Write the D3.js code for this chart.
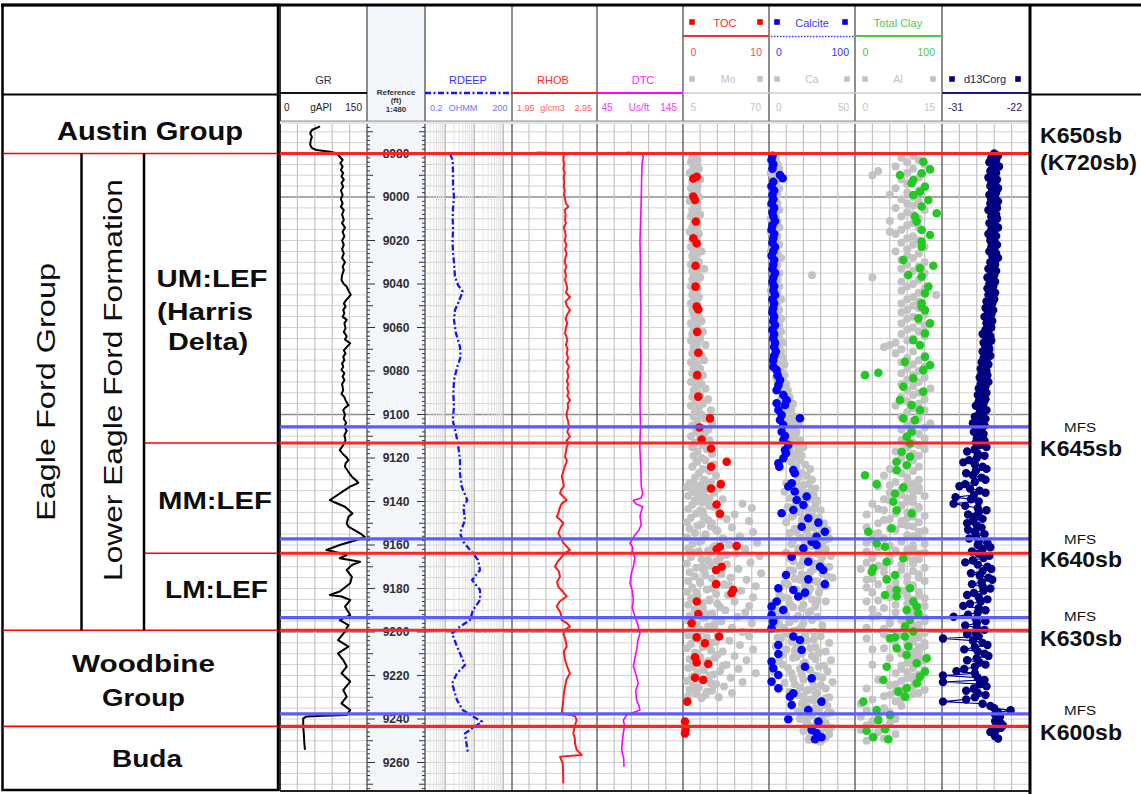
<!DOCTYPE html>
<html><head><meta charset="utf-8">
<script src="https://cdn.jsdelivr.net/npm/d3@7"></script>
<style>body{margin:0;background:#fff}svg{display:block;font-family:"Liberation Sans",Arial,sans-serif}</style>
</head><body><svg id="c" width="1141" height="794"></svg>
<script>
// ---------------- DATA ----------------
const depthLabels = [8980,9000,9020,9040,9060,9080,9100,9120,9140,9160,9180,9200,9220,9240,9260];
const sbNames = ["K650sb","K645sb","K640sb","K630sb","K600sb"];
const sbDepths = [8980, 9113.1, 9163.8, 9199.2, 9243.4];
const mfsDepths = [9105.7, 9157.2, 9193.4, 9237.6];

const grData = [[8967.5,69],[8969.2,55],[8970.7,52],[8972.5,55],[8973.8,53],[8976,52],[8977.5,55],[8978.4,63],[8979.2,86],[8979.9,98],[8981.5,103],[8983,108],[8984.5,104],[8986,108],[8987.6,105],[8989,109],[8990.5,106],[8992,110],[8993.5,106],[8995.3,109],[8997,105],[8999,108],[9001,105],[9002.9,108],[9004.5,105],[9006,110],[9008,107],[9010.6,110],[9012,107],[9014,112],[9016,108],[9018.2,111],[9020,107],[9022,110],[9024,107],[9025.9,110],[9028,107],[9030,112],[9032,108],[9033.6,110],[9036,107],[9038.2,106],[9040,110],[9041.2,115],[9043,118],[9045,122],[9046.5,117],[9047.4,114],[9049,110],[9050.4,113],[9052,109],[9053.5,111],[9055,108],[9056.5,115],[9058,111],[9060.4,113],[9062,110],[9064,115],[9065.5,112],[9067.3,121],[9069,115],[9070.5,110],[9071.9,113],[9073.5,109],[9075,111],[9076.5,107],[9078,109],[9079.5,106],[9081,111],[9082.5,108],[9084.2,111],[9086,107],[9088.8,109],[9090.5,106],[9092,111],[9093.4,113],[9095.7,118],[9097,112],[9098,109],[9100,112],[9102,110],[9103.8,114],[9105.6,111],[9107.5,115],[9109.5,111],[9111.8,113],[9114,109],[9116.4,103],[9118,108],[9119.5,114],[9121,118],[9122.5,113],[9124,112],[9126,117],[9128.6,124],[9130,130],[9131.4,135],[9133.2,121],[9136.3,103],[9139.4,86],[9140.1,92],[9142.4,112],[9145.5,125],[9147,118],[9150,115],[9151.6,118],[9154.6,138],[9156.2,146],[9157.7,132],[9160,103],[9162.3,80],[9163,92],[9164.6,115],[9166.1,103],[9167.7,138],[9169.2,124],[9171.5,115],[9174.6,124],[9177.6,121],[9181.4,103],[9183,86],[9183.7,106],[9185.3,121],[9188.3,112],[9192.2,121],[9194.5,103],[9196.8,118],[9199.8,112],[9203.7,100],[9206.7,118],[9209.8,100],[9212.9,109],[9215.9,115],[9219,106],[9222.8,121],[9226.7,109],[9229.7,115],[9232.8,106],[9235.9,121],[9238.2,115],[9238.5,74],[9238.8,46],[9239.7,40],[9243.5,40],[9246.6,41],[9251.2,42],[9254.2,43]];

const rdeepData = [[8980.3,1.46],[8983,1.80],[8990,1.85],[8995,1.85],[9000,2.0],[9005,1.85],[9010,1.80],[9015,1.85],[9020,1.78],[9026,1.85],[9030,2.0],[9036.6,2.16],[9040.5,2.75],[9043.5,3.99],[9046.6,3.22],[9050.4,2.48],[9052,2.16],[9056.6,2.0],[9062.7,2.34],[9068.9,3.22],[9073.5,3.40],[9078,2.60],[9084.2,2.0],[9090.3,1.89],[9096.4,2.0],[9102.6,1.80],[9108.7,2.34],[9114.8,2.81],[9121,3.22],[9127.1,3.22],[9133.2,3.69],[9139.4,5.75],[9142.4,4.19],[9148.5,4.79],[9154.6,3.22],[9158.5,4.2],[9162.3,7.13],[9166.9,13.5],[9171.5,15.8],[9176.1,8.36],[9180.7,15.8],[9185.3,15.8],[9189.9,9.04],[9194.5,7.13],[9197.5,3.22],[9200.6,1.71],[9206.7,2.54],[9212.9,4.08],[9215.2,4.79],[9219,2.54],[9223.6,1.71],[9231.3,2.54],[9235.9,3.99],[9238.9,9.04],[9241.2,18.5],[9245,7.13],[9246.6,4.79],[9250,5.2],[9255.8,6.08]];

const rhobData = [[8979.5,2.24],[8979.9,2.55],[8981.5,2.56],[8983,2.553],[8985,2.565],[8987,2.555],[8989,2.57],[8991,2.558],[8993,2.566],[8995.3,2.56],[8997,2.572],[8999,2.562],[9001,2.575],[9003,2.585],[9004.4,2.613],[9006,2.57],[9008,2.58],[9010.6,2.574],[9012,2.585],[9014,2.56],[9016,2.575],[9018,2.583],[9020,2.57],[9022,2.59],[9024,2.575],[9026,2.593],[9028,2.578],[9030,2.57],[9032,2.588],[9034,2.572],[9036,2.585],[9038.2,2.574],[9040,2.59],[9042,2.6],[9044,2.585],[9046,2.632],[9048,2.58],[9050,2.595],[9052,2.632],[9054,2.6],[9056,2.58],[9058,2.6],[9060,2.585],[9062.7,2.574],[9064,2.59],[9066,2.60],[9068,2.585],[9070,2.605],[9072,2.593],[9074,2.61],[9076,2.59],[9078,2.62],[9080,2.6],[9082.7,2.613],[9084.5,2.595],[9086,2.61],[9088,2.60],[9090,2.615],[9091.5,2.6],[9093.4,2.632],[9095,2.605],[9097,2.61],[9099,2.595],[9101,2.593],[9103,2.61],[9106,2.62],[9108,2.6],[9110.2,2.632],[9112,2.59],[9113,2.62],[9114.8,2.593],[9117,2.585],[9119.4,2.574],[9121,2.595],[9122,2.59],[9124,2.57],[9126,2.555],[9128.6,2.535],[9130.5,2.55],[9133,2.56],[9134.5,2.53],[9136.3,2.515],[9138,2.56],[9139.4,2.593],[9141,2.535],[9143,2.51],[9145.5,2.495],[9147,2.476],[9148.5,2.52],[9150,2.554],[9152,2.52],[9154.6,2.495],[9157,2.53],[9159,2.554],[9160.5,2.59],[9162.3,2.632],[9164,2.56],[9165.4,2.535],[9167.5,2.49],[9169.9,2.456],[9172,2.5],[9174.6,2.515],[9177,2.48],[9179.2,2.495],[9181.5,2.55],[9183.7,2.593],[9186,2.51],[9188.3,2.476],[9191,2.52],[9194.5,2.535],[9196,2.6],[9197.5,2.632],[9199,2.57],[9200.6,2.554],[9203,2.575],[9206.7,2.593],[9209,2.56],[9212.9,2.574],[9216,2.6],[9219,2.632],[9222,2.59],[9225.1,2.574],[9228,2.56],[9231.3,2.554],[9234,2.545],[9237.4,2.535],[9238.6,2.691],[9240.5,2.711],[9243,2.69],[9246.6,2.671],[9249,2.69],[9251.2,2.691],[9254.2,2.711],[9256.5,2.77],[9257.3,2.515],[9260.4,2.546],[9263,2.55],[9269.6,2.554]];

const dtcData = [[8979.5,79.5],[8979.9,97.0],[8981.5,98.9],[8984,97.5],[8990,97.0],[9000,96.5],[9010,95.8],[9020,95.0],[9030,95.5],[9040,95.2],[9050,96.0],[9056.5,95.8],[9065,95.5],[9075,96.0],[9085,95.2],[9095,95.0],[9105,95.5],[9115,94.8],[9125,96.0],[9133,96.5],[9136.3,98.1],[9138.5,96],[9139.4,87.2],[9141,90],[9142.4,98.1],[9145,96],[9147,95.0],[9150.5,96.5],[9153,94],[9156,88],[9159.2,83.4],[9161,86.5],[9163,86],[9166,89],[9170,87.2],[9173,85],[9177.6,83.4],[9181,86],[9185.3,87.2],[9189,86],[9193,89.2],[9196,92],[9200.6,95.0],[9204,92.5],[9208.3,91.1],[9212,89],[9215.9,87.2],[9219,90],[9223.6,93.0],[9227,90],[9231.3,91.1],[9233.5,93.5],[9235.9,95.0],[9238.2,79.5],[9240.5,75.6],[9243,77],[9246.6,75.6],[9250,74.5],[9254.2,73.7],[9258,76],[9262,76.4]];

const tocData = [[8990.7,1.59],[8991.5,1.2],[8999.8,1.2],[9001.4,1.4],[9011.3,1.5],[9019,1.2],[9021.3,1.59],[9031.6,1.45],[9041.2,1.45],[9050.4,1.59],[9051.7,1.78],[9062,1.65],[9071.6,1.78],[9081.9,1.65],[9091.8,1.78],[9101.8,3.14],[9106,1.9],[9111.5,2.17],[9115.6,3.26],[9121.7,5.08],[9124,3.26],[9132,4.4],[9134,3.26],[9141.4,3.9],[9145.6,4.3],[9160.8,4.3],[9162,3.92],[9160.4,6.24],[9170,4.5],[9171.5,3.85],[9178,3.85],[9180.7,5.85],[9182.2,5.65],[9186,1.6],[9191.7,1.78],[9196,1.0],[9202.4,1.6],[9205.2,2.56],[9202.1,4.2],[9211.6,1.4],[9214,1.6],[9214.7,2.94],[9221,1.4],[9222.1,2.36],[9232,0.5],[9241.2,0.23],[9245,0.3],[9246.6,0.23]];

const calciteData = [[8981,4],[8983,3],[8985,5],[8987,4],[8989.9,12.8],[8991.4,15.9],[8993,5],[8995,3],[8997,6],[8999,4],[9001,5],[9003,3],[9005,6],[9007,4],[9009,5],[9011,7],[9013,4],[9015,3],[9017,6],[9019,5],[9021,4],[9023,7],[9025,5],[9027,3],[9029,6],[9031,5],[9033,4],[9035,7],[9037,5],[9039,4],[9041,6],[9043,5],[9045,7],[9047,4],[9049,6],[9051,5],[9053,4],[9055,6],[9057,5],[9059,7],[9061,4],[9063,6],[9065,5],[9067,7],[9069,6],[9071,8],[9073,6],[9075,5],[9078,5],[9079.6,8.9],[9082,10],[9084.2,12.8],[9086.5,11],[9088.8,8.9],[9091,16.7],[9093.4,20.5],[9094.8,8.9],[9095.6,18.6],[9097.9,10.9],[9100.2,14.7],[9101.7,36],[9102.5,12.8],[9104.8,16.7],[9107.9,14.7],[9109.9,18.6],[9111.7,16.7],[9114,22.5],[9116.3,18.6],[9117.8,19.8],[9120.1,16.7],[9122.4,10.9],[9124,12],[9125.5,28.3],[9127,30],[9131.6,26.4],[9133.1,22.5],[9135.4,30],[9137.7,43.8],[9139.3,32.2],[9141.6,40],[9143.9,28.3],[9145.4,14.7],[9147.7,45.7],[9149.7,57.4],[9151.6,38],[9153.9,65],[9156.2,55.4],[9158.5,49.6],[9160,55.4],[9161.5,40],[9165.4,26.4],[9167.7,45.7],[9170,59.3],[9171.5,63],[9173.8,19.8],[9175.8,45.7],[9178,65],[9179.9,10.9],[9180.7,28.3],[9181.9,41.9],[9183.7,34],[9186,9],[9188.3,3],[9189.9,16.6],[9192.2,3],[9195.2,5],[9198.3,3],[9202.1,28.3],[9203.7,36],[9206,10.9],[9208.3,38],[9210.1,10.9],[9213.6,3],[9216,41.9],[9216.7,5],[9219.8,10.9],[9221.3,49.6],[9222.8,3],[9225.9,10.9],[9228.2,28.3],[9229.7,24.4],[9232,61],[9233.6,26.4],[9235.9,45.7],[9240.1,22.5],[9241.2,57.4],[9245,49.6],[9246.6,55.4],[9248.4,61],[9249.3,53.5]];

const clayData = [[8983.8,78.5],[8987.3,86.2],[8989.1,76.6],[8989.9,51.7],[8992.2,67],[8993.7,65.1],[8995.3,80.5],[8997.6,74.7],[8999.1,67],[9001.4,84.3],[9004.4,76.6],[9007.5,93.9],[9009,69],[9011.3,70.9],[9015.2,76.6],[9017.5,86.2],[9020.5,76.6],[9022.8,76.6],[9029,55.5],[9031.6,90],[9032.8,74.7],[9035.9,61.3],[9036.6,76.6],[9041.2,84.3],[9044.3,80.5],[9048.9,76.6],[9050.5,76.6],[9052,80.5],[9055.8,72.8],[9058.1,86.2],[9062.7,80.5],[9065.8,67],[9068.1,74.7],[9073.5,80.5],[9075.8,57.5],[9077.3,86.2],[9079.6,78.5],[9081.9,11.5],[9080.8,26.8],[9083.4,67],[9087.2,55.5],[9089.5,78.5],[9093.4,51.7],[9095.7,65.1],[9098,74.7],[9101.8,55.5],[9102.6,69],[9107.9,65.1],[9110.2,59.4],[9113.3,63.2],[9117.1,53.6],[9119.4,63.2],[9121.7,47.9],[9123.3,59.4],[9125.6,47.9],[9127.9,11.5],[9132,24.9],[9133.5,55.5],[9136.3,46],[9140.1,44],[9144,47.9],[9145.5,65.1],[9152.3,42.1],[9153.9,15.3],[9159.2,24.9],[9160.8,34.5],[9166.1,55.5],[9167.7,36.4],[9170.7,21],[9172.3,19.2],[9173.8,46],[9175.8,36.4],[9179.9,63.2],[9180.7,47.9],[9183,34.5],[9183.7,47.9],[9186,67],[9188.3,70.9],[9189.9,59.4],[9191.4,72.8],[9194.5,63.2],[9197.5,57.5],[9199.8,67],[9202.9,40.2],[9202.4,46],[9202.1,57.5],[9206.7,61.3],[9207.5,47.9],[9210.6,59.4],[9212.1,82.4],[9214.4,70.9],[9216,36.4],[9218.2,80.5],[9220.5,74.7],[9223.6,70.9],[9222.1,32.6],[9225.9,59.4],[9227.4,49.8],[9229.7,57.5],[9232,9.6],[9235.9,24.9],[9238.2,40.2],[9240.5,26.8],[9244.7,34.5],[9245.4,13.4],[9248.4,21],[9249.3,38.3]];

// grey element series, one reading per foot from the start depth
const moStart = 8981;
const moVals = [14,12,16,11,15,13,17,12,10,15, 14,18,12,13,16,11,14,15,12,17, 13,10,15,14,16,12,13,18,11,14, 15,13,16,12,14,10,17,13,15,12, 14,16,11,13,19,15,12,14,13,17, 11,15,21,12,16,13,18,12,14,15, 11,16,13,14,12,17,15,13,11,16, 14,12,15,13,17,14,19,11,16,13, 15,20,12,14,18,11,16,22,13,15, 17,12,19,14,21,11,16,13,18,15, 12,20,14,17,11,19,15,22,13,16, 18,12,24,15,20,11,17,26,14,19, 13,22,16,27,12,19,24,15,21,11, 18,25,14,20,12,23,16,27,13,19, 22,15,28,12,20,25,17,30,14,21, 26,13,24,32,16,28,19,22,35,15, 50,25,57,18,32,44,21,38,55,27, 16,42,30,58,22,48,35,19,61,40, 28,52,17,45,63,33,24,56,38,20, 47,30,64,22,41,53,18,36,60,27, 49,15,39,58,25,44,31,55,20,37, 52,23,46,12,34,57,28,42,18,50, 31,55,14,40,26,48,20,58,35,16, 44,29,53,22,38,12,47,33,60,25, 41,18,50,30,36,15,27,42,22,32];
const moExtraStart = 9131.5;
const moExtra = [10,18,8,22,12,16,9,25,14,20, 12,28,9,20,15,33,11,24,8,19, 26,10,31,14,22,8,36,17,12,29, 9,24,13,38,11,19,30,8,26,15, 21,10,34,14,27,9,18,40,12,23, 8,30,16,11,25,20,9,33,14,19, 27,10,21,8,30,15,24,11,19,13, 9,23,17,30,11,20,8,26,14,31, 18,10,24,13,35,9,21,16,28,12, 20,8,26,13,17,10,23,15,9,19];
const caStart = 8981;
const caVals = [2,4,1,3,5,2,6,3,1,4, 3,5,2,4,1,6,3,2,5,4, 2,3,5,1,4,6,2,3,4,1, 5,3,2,6,4,1,3,5,2,4, 3,6,2,4,1,5,3,7,2,4, 5,2,4,3,6,25,2,5,3,4, 6,3,1,5,4,2,7,3,5,2, 4,6,3,5,2,7,4,3,6,5, 3,7,4,2,6,5,8,3,6,4, 7,5,3,8,4,6,9,5,3,7, 6,9,4,8,5,10,7,6,11,8, 9,12,7,10,14,8,11,13,9,12, 15,10,13,17,11,14,9,16,12,15, 13,18,11,16,20,12,17,14,19,15, 18,13,21,16,24,14,19,22,17,25, 16,23,19,27,14,21,26,18,24,20, 27,15,22,30,18,25,13,28,21,32, 19,26,34,16,29,23,35,14,27,31, 21,33,17,28,36,12,24,30,19,35, 26,14,31,22,37,18,28,11,33,24, 16,29,21,8,25,33,12,27,19,5, 23,10,28,15,4,20,31,9,17,26, 12,30,7,22,35,16,27,10,33,19, 25,14,36,21,8,29,18,34,13,27, 31,20,37,15,26,33,22,28,17,35, 24,30,19,34,27,21,36,25,31,18, 28,33,23,36,26,30,35,24,32,29];
const caExtraStart = 9131.5;
const caExtra = [10,20,14,25,9,18,22,12,28,16, 20,11,26,17,23,14,29,19,10,24, 30,15,22,12,27,18,33,21,13,25, 17,29,10,23,31,20,14,26,18,32, 12,24,19,34,15,27,9,21,30,16, 23,6,18,11,28,3,20,14,9,24, 7,17,3,25,12,6,19,2,14,9, 21,5,26,13,18,4,24,15,29,8, 16,27,6,20,32,11,24,3,19,28, 14,25,9,30,18,23,12,27,20,33, 26,20,32,22,29,17,34,24,21,30, 22,31,27,34,20,28,25,33,23,30];
const alStart = 8981;
const alVals = [10,8,11,9,12,7,10,4,9,3, 11,8,10,9,12,7,11,9,6,10, 8,11,9,10,7,12,9,10,8,11, 6,10,9,11,8,6,7,10,9,11, 8,10,12,9,7,11,9,10,8,12, 9,11,8,10,12,9,3,11,8,10, 9,12,8,11,14,10,9,11,8,10, 11,9,8,12,10,9,11,8,12,10, 9,11,8,12,10,9,7,6,5,8, 10,7,12,9,11,8,10,12,9,11, 8,10,12,9,11,8,10,13,9,11, 10,8,12,9,11,7,10,12,9,11, 8,11,10,13,9,12,8,10,11,9, 12,8,10,11,9,12,7,10,11,8, 10,7,9,11,6,10,8,5,9,11, 7,10,4,9,11,6,8,10,5,9, 3,8,11,5,9,2,10,6,8,4, 9,2,7,11,3,10,5,8,2,10, 4,9,2,11,6,3,10,2,8,5, 1,10,3,7,11,2,9,4,10,6, 8,3,11,6,10,2,9,12,5,10, 7,11,3,9,12,6,10,2,11,8, 5,10,2,9,12,7,11,3,10,8, 11,6,12,9,3,10,8,12,7,11, 9,4,11,7,10,2,8,11,6,9, 3,7,1,8,5,2,6,4,1,7, 3,6,2,5,1,4,7,3,5,2];
const alExtraStart = 9131.5;
const alExtra = [9,6,11,8,10,7,12,9,6,10, 8,11,4,10,7,12,9,5,11,8, 10,6,12,4,9,11,3,8,12,6, 10,7,12,3,9,11,6,10,4,12, 8,5,11,9,3,12,7,10,2,9, 11,6,9,12,4,10,7,11,3,9, 10,4,12,8,6,11,9,5,10,12, 8,11,6,10,9,12,5,11,8,10, 9,12,10,11,8,10,12,9,11,10, 10,8,11,6,9,12,7,10,5,8];
const d13Start = 8980;
const d13Vals = [-25.6,-25.2,-25.9,-25.4,-26.1,-25.5,-25.1,-25.8,-26.0,-25.4, -25.7,-26.2,-25.3,-25.9,-25.5,-26.0,-25.2,-25.8,-25.4,-26.1, -25.5,-25.9,-25.2,-26.0,-25.6,-25.3,-26.2,-25.7,-25.4,-25.9, -25.3,-25.8,-26.1,-25.5,-25.2,-25.9,-25.6,-26.2,-25.4,-25.7, -26.0,-25.5,-25.3,-25.9,-25.6,-26.1,-25.4,-25.8,-25.2,-25.7, -26.0,-25.5,-25.8,-26.2,-25.4,-25.9,-25.6,-26.3,-25.7,-25.5, -26.1,-25.7,-26.3,-25.8,-25.5,-26.2,-25.9,-25.6,-26.4,-25.8, -26.0,-26.5,-25.7,-26.2,-25.9,-26.6,-26.0,-25.8,-26.4,-26.1, -25.9,-26.5,-26.2,-26.8,-26.0,-26.4,-25.9,-26.7,-26.2,-26.5, -26.1,-26.8,-26.3,-26.0,-26.7,-26.4,-26.9,-26.2,-26.6,-27.0, -26.4,-26.9,-26.3,-27.1,-26.6,-26.2,-27.0,-26.5,-27.2,-26.7, -26.4,-27.3,-26.8,-26.5,-27.2,-26.7,-27.5,-26.9,-26.4,-27.1, -26.8,-27.6,-26.5,-27.2,-27.8,-26.6,-27.4,-26.9,-27.7,-26.7, -27.0,-27.4,-26.6,-27.5,-27.1,-26.4,-27.6,-28.4,-27.3,-26.6, -27.4,-28.2,-28.8,-27.6,-26.8,-26.4,-27.5,-28.5,-27.8,-26.9, -26.5,-27.6,-28.6,-29.2,-28.1,-27.1,-26.5,-27.7,-29.6,-28.0, -27.2,-29.8,-28.6,-27.3,-26.4,-27.2,-28.3,-27.6,-26.8,-27.8, -28.4,-27.4,-26.9,-28.3,-27.6,-26.6,-27.5,-28.2,-27.2,-26.3, -27.3,-26.0,-26.8,-27.9,-27.2,-26.1,-26.7,-27.8,-28.6,-27.3, -26.3,-25.9,-26.8,-28.0,-27.1,-26.2,-25.8,-26.9,-27.9,-26.8, -26.0,-26.7,-27.7,-28.4,-27.2,-26.3,-27.0,-28.1,-28.8,-27.2, -26.5,-27.3,-28.3,-29.8,-27.5,-26.5,-27.4,-28.6,-27.4,-26.6, -27.5,-28.4,-27.2,-30.9,-27.8,-26.8,-26.3,-27.6,-28.7,-27.3, -26.6,-26.2,-27.4,-28.4,-27.1,-26.5,-27.6,-28.7,-29.5,-27.6, -30.9,-27.3,-26.6,-30.9,-27.1,-26.4,-27.7,-28.5,-27.3,-26.5, -27.6,-28.5,-30.9,-26.8,-26.0,-25.6,-23.9,-25.2,-25.5,-25.0, -25.3,-25.5,-24.9,-24.7,-24.9,-25.4,-26.0,-25.6,-25.5,-25.2];

// ---------------- DRAW ----------------
const svg = d3.select("#c");
const W = 1141, H = 794, PT = 124, PB = 791;
const y = d3.scaleLinear().domain([8980, 9260]).range([153.5, 762.5]);
const edges = [280, 367, 425, 512, 597, 683, 769, 855, 942, 1029];

const xGR = d3.scaleLinear().domain([0,150]).range([280,367]);
const xRD = d3.scaleLog().domain([0.2,200]).range([425,512]);
const xRH = d3.scaleLinear().domain([1.95,2.95]).range([512,597]);
const xDT = d3.scaleLinear().domain([45,145]).range([597,683]);
const xTOC = d3.scaleLinear().domain([0,10]).range([683,769]);
const xMo = d3.scaleLinear().domain([5,70]).range([683,769]);
const xCal = d3.scaleLinear().domain([0,100]).range([769,855]);
const xCa = d3.scaleLinear().domain([0,50]).range([769,855]);
const xCl = d3.scaleLinear().domain([0,100]).range([855,942]);
const xAl = d3.scaleLinear().domain([0,15]).range([855,942]);
const xD13 = d3.scaleLinear().domain([-31,-22]).range([942,1029]);

svg.append("rect").attr("width",W).attr("height",H).attr("fill","#fff");
svg.append("rect").attr("x",367).attr("y",5).attr("width",58).attr("height",PB-5).attr("fill","#f3f7fc");

const defs = svg.append("defs");
defs.append("clipPath").attr("id","plot").append("rect").attr("x",280).attr("y",PT).attr("width",749).attr("height",PB-PT);

// grid
const grid = svg.append("g");
const hGrid = d3.range(8970, 9275, 5);
const segs = [[280,367],[425,1029]];
hGrid.forEach(d => {
  const major = d % 100 === 0;
  segs.forEach(s => grid.append("line").attr("x1",s[0]).attr("x2",s[1]).attr("y1",y(d)).attr("y2",y(d))
    .attr("stroke", major ? "#8c8c8c" : "#d2d2d2").attr("stroke-width", major ? 1.3 : 1));
});
const linTracks = [xGR, xRH, xDT, xTOC, xCal, xCl, xD13];
linTracks.forEach(sc => {
  const [d0,d1] = sc.domain();
  for (let k=1;k<5;k++){ const xx = sc(d0 + k*(d1-d0)/5);
    grid.append("line").attr("x1",xx).attr("x2",xx).attr("y1",PT).attr("y2",PB).attr("stroke","#c4c4c4").attr("stroke-width",1.2); }
});
const logLines = [0.3,0.4,0.5,0.6,0.7,0.8,0.9,1,2,3,4,5,6,7,8,9,10,20,30,40,50,60,70,80,90,100];
logLines.forEach(v => {
  const dec = (v===1||v===10||v===100);
  grid.append("line").attr("x1",xRD(v)).attr("x2",xRD(v)).attr("y1",PT).attr("y2",PB)
    .attr("stroke", dec ? "#b4b4b4" : "#e2e2e2").attr("stroke-width", dec ? 1.2 : 1);
});
// track borders
edges.slice(0,9).forEach((e,i) => svg.append("line").attr("x1",e).attr("x2",e).attr("y1",5).attr("y2",PB)
  .attr("stroke", i===0 ? "#000" : "#505050").attr("stroke-width", i===0 ? 1.6 : 1.3));

// reference ticks
const ref = svg.append("g");
d3.range(8968, 9274, 2).forEach(d => {
  let len = d % 10 === 0 ? 6 : 3;
  if (depthLabels.includes(d)) len = 8;
  ref.append("line").attr("x1",367).attr("x2",367+len).attr("y1",y(d)).attr("y2",y(d)).attr("stroke","#333").attr("stroke-width",1);
  ref.append("line").attr("x1",425-len).attr("x2",425).attr("y1",y(d)).attr("y2",y(d)).attr("stroke","#333").attr("stroke-width",1);
});
depthLabels.forEach(d => ref.append("text").attr("x",396).attr("y",y(d)+4.3).attr("text-anchor","middle")
  .attr("font-size",12).attr("font-weight","bold").attr("fill","#2e2e2e").text(d));

// curves & points
const plot = svg.append("g").attr("clip-path","url(#plot)");
function curve(data, xs, color, w, dash){
  plot.append("path").attr("d", d3.line().x(d=>xs(d[1])).y(d=>y(d[0]))(data))
    .attr("fill","none").attr("stroke",color).attr("stroke-width",w).attr("stroke-linejoin","round")
    .attr("stroke-dasharray", dash || null);
}
function pts(data, xs, color, r){
  plot.append("g").selectAll("circle").data(data).join("circle")
    .attr("cx",d=>xs(d[1])).attr("cy",d=>y(d[0])).attr("r",r).attr("fill",color);
}
const seq = (start, vals) => vals.map((v,i) => [start + i, v]);

curve(grData, xGR, "#000", 2);
curve(rdeepData, xRD, "#1414ff", 2.3, "6,2.5,2,2.5");
curve(rhobData, xRH, "#ff1a1a", 2);
curve(dtcData, xDT, "#ff00ff", 1.6);

const grey = "#c3c3c3";
pts(seq(moStart, moVals), xMo, grey, 4);
pts(seq(moExtraStart, moExtra), xMo, grey, 4);
pts(tocData, xTOC, "#ff0000", 4.3);
pts(seq(caStart, caVals), xCa, grey, 4);
pts(seq(caExtraStart, caExtra), xCa, grey, 4);
pts(calciteData, xCal, "#0000ff", 4.3);
pts(seq(alStart, alVals), xAl, grey, 4);
pts(seq(alExtraStart, alExtra), xAl, grey, 4);
pts(clayData, xCl, "#22c922", 4.3);
const d13 = seq(d13Start, d13Vals);
curve(d13, xD13, "#000080", 1.2);
pts(d13, xD13, "#000080", 4.2);

// surfaces
mfsDepths.forEach(d => svg.append("line").attr("x1",280).attr("x2",1029).attr("y1",y(d)).attr("y2",y(d))
  .attr("stroke","#5c5cff").attr("stroke-width",3.2));
sbDepths.forEach(d => svg.append("line").attr("x1",280).attr("x2",1029).attr("y1",y(d)).attr("y2",y(d))
  .attr("stroke","#ff2424").attr("stroke-width",3.2));

// header
const hd = svg.append("g");
hd.append("rect").attr("x",280).attr("y",121).attr("width",749).attr("height",3).attr("fill","#e4e4e4");
hd.append("line").attr("x1",280).attr("x2",1029).attr("y1",121).attr("y2",121).attr("stroke","#777").attr("stroke-width",0.8);
function t(x, yy, s, o){
  const e = hd.append("text").attr("x",x).attr("y",yy).text(s)
    .attr("font-size", o.size || 10).attr("fill", o.fill || "#222")
    .attr("text-anchor", o.anchor || "middle");
  if (o.bold) e.attr("font-weight","bold");
  return e;
}
function sq(x, yy, c){ hd.append("rect").attr("x",x-2.8).attr("y",yy-2.8).attr("width",5.6).attr("height",5.6).attr("fill",c); }
function hl(x1,x2,yy,c,w,dash){ hd.append("line").attr("x1",x1).attr("x2",x2).attr("y1",yy).attr("y2",yy).attr("stroke",c).attr("stroke-width",w).attr("stroke-dasharray",dash||null); }

// GR
t(323.5, 84, "GR", {size:11, fill:"#333"});
hl(280,367,93,"#111",2);
t(284,111,"0",{anchor:"start", fill:"#222"}); t(321,111,"gAPI",{fill:"#222"}); t(362,111,"150",{anchor:"end", fill:"#222"});
// reference
t(396,95,"Reference",{size:8,bold:true,fill:"#333"});
t(396,103,"(ft)",{size:8,bold:true,fill:"#333"});
t(396,112,"1:480",{size:8,bold:true,fill:"#333"});
// RDEEP
t(468,84,"RDEEP",{size:11, fill:"#3434ff"});
hl(425,512,93,"#1414ff",2.3,"6,2.5,2,2.5");
t(430,111,"0.2",{anchor:"start",fill:"#7272ff",size:9}); t(463,111,"OHMM",{fill:"#7272ff",size:9}); t(507.5,111,"200",{anchor:"end",fill:"#7272ff",size:9});
// RHOB
t(553,84,"RHOB",{size:11, fill:"#ff2a2a"});
hl(512,597,93,"#ff1a1a",2);
t(517,111,"1.95",{anchor:"start",fill:"#ff5c5c",size:9}); t(552.5,111,"g/cm3",{fill:"#ff5c5c",size:9}); t(592,111,"2.95",{anchor:"end",fill:"#ff5c5c",size:9});
// DTC
t(643,84,"DTC",{size:11, fill:"#ff22ff"});
hl(597,683,93,"#ff00ff",2);
t(601.5,111,"45",{anchor:"start",fill:"#ff33ff",size:10}); t(639,111,"Us/ft",{fill:"#ff33ff",size:10}); t(677,111,"145",{anchor:"end",fill:"#ff33ff",size:10});
// TOC / Mo
sq(692,22,"#ff0000"); sq(760,22,"#ff0000"); t(725,27,"TOC",{size:11,fill:"#ff2a2a"});
hl(683,769,36,"#ff2a2a",1.8);
t(690.5,56,"0",{anchor:"start",fill:"#ff4a4a",size:10.5}); t(762,56,"10",{anchor:"end",fill:"#ff4a4a",size:10.5});
const lg = "#c2c2c2";
sq(692,79,lg); sq(760,79,lg); t(728,83,"Mo",{size:10.5,fill:lg});
hl(683,769,93,"#cdcdcd",1.5);
t(690.5,111,"5",{anchor:"start",fill:lg,size:10}); t(761,111,"70",{anchor:"end",fill:lg,size:10});
// Calcite / Ca
sq(777,22,"#0000ff"); sq(845,22,"#0000ff"); t(812,27,"Calcite",{size:11,fill:"#3a3aff"});
hl(771,855,36.5,"#3a3aff",1.5,"1.5,1.5");
t(776,56,"0",{anchor:"start",fill:"#3434ff",size:10.5}); t(849,56,"100",{anchor:"end",fill:"#3434ff",size:10.5});
sq(777,79,lg); sq(847,79,lg); t(812,83,"Ca",{size:10.5,fill:lg});
hl(769,855,93,"#cdcdcd",1.5);
t(776,111,"0",{anchor:"start",fill:lg,size:10}); t(849,111,"50",{anchor:"end",fill:lg,size:10});
// Clay / Al
t(898,27,"Total Clay",{size:11,fill:"#55c855"});
hl(855,942,36,"#44cc44",1.8);
t(862.5,56,"0",{anchor:"start",fill:"#4fc84f",size:10.5}); t(935,56,"100",{anchor:"end",fill:"#4fc84f",size:10.5});
sq(865,79,lg); sq(933,79,lg); t(898,83,"Al",{size:10.5,fill:lg});
hl(855,942,93,"#cdcdcd",1.5);
t(862.5,111,"0",{anchor:"start",fill:lg,size:10}); t(935,111,"15",{anchor:"end",fill:lg,size:10});
// d13Corg
sq(952,79,"#000080"); sq(1018,79,"#000080"); t(985,83,"d13Corg",{size:11,fill:"#1a1a66"});
hl(942,1029,93,"#1a1a80",1.8);
t(948,111,"-31",{anchor:"start",fill:"#1a1a66",size:10.5}); t(1022,111,"-22",{anchor:"end",fill:"#1a1a66",size:10.5});

// frame lines
svg.append("line").attr("x1",1).attr("x2",W).attr("y1",5).attr("y2",5).attr("stroke","#000").attr("stroke-width",3);
svg.append("line").attr("x1",280).attr("x2",1029).attr("y1",PB).attr("y2",PB).attr("stroke","#222").attr("stroke-width",2);
svg.append("line").attr("x1",1030).attr("x2",1030).attr("y1",4).attr("y2",H).attr("stroke","#000").attr("stroke-width",3);
svg.append("line").attr("x1",1030).attr("x2",W).attr("y1",94.5).attr("y2",94.5).attr("stroke","#000").attr("stroke-width",2);

// left stratigraphy panel
const lp = svg.append("g");
lp.append("rect").attr("x",2.5).attr("y",5).attr("width",275.5).attr("height",785).attr("fill","none").attr("stroke","#000").attr("stroke-width",2.5);
lp.append("line").attr("x1",2).attr("x2",278).attr("y1",94.5).attr("y2",94.5).attr("stroke","#000").attr("stroke-width",2);
[[0,true],[1,false],[2,false],[3,true],[4,true]].forEach(([i,full]) =>
  lp.append("line").attr("x1", full ? 3 : 144).attr("x2",277).attr("y1",y(sbDepths[i])).attr("y2",y(sbDepths[i]))
    .attr("stroke","#ff0000").attr("stroke-width",1.6));
[81.5,144].forEach(xx => lp.append("line").attr("x1",xx).attr("x2",xx).attr("y1",y(sbDepths[0])).attr("y2",y(sbDepths[3]))
  .attr("stroke","#000").attr("stroke-width",2.5));
function lt(x, cy, s, size, len, bold){
  lp.append("text").attr("x",x).attr("y",cy + size*0.36).attr("text-anchor","middle")
    .attr("font-size",size).attr("font-weight", bold ? "bold" : "normal").attr("fill","#0d0d0d")
    .attr("textLength",len).attr("lengthAdjust","spacingAndGlyphs").text(s);
}
lt(150,131,"Austin Group",26,186,true);
lt(212,278,"UM:LEF",24,111,true);
lt(205,311,"(Harris",24,96,true);
lt(208,341,"Delta)",24,80,true);
lt(215,500,"MM:LEF",24,114,true);
lt(216.5,589,"LM:LEF",24,103,true);
lt(143.5,663,"Woodbine",24,143,true);
lt(143.5,697,"Group",24,83,true);
lt(147,758,"Buda",24,70,true);
function rt(cx, cy, s, size, len){
  lp.append("text").attr("transform",`translate(${cx},${cy}) rotate(-90)`).attr("x",0).attr("y",size*0.36)
    .attr("text-anchor","middle").attr("font-size",size).attr("fill","#0d0d0d")
    .attr("textLength",len).attr("lengthAdjust","spacingAndGlyphs").text(s);
}
rt(46,392,"Eagle Ford Group",25,258);
rt(113,380,"Lower Eagle Ford Formation",25,402);

// right labels
const rl = svg.append("g");
function kt(x, cy, s, size, len, bold, anchor){
  rl.append("text").attr("x",x).attr("y",cy + size*0.36).attr("text-anchor",anchor||"start")
    .attr("font-size",size).attr("font-weight", bold ? "bold" : "normal").attr("fill","#111")
    .attr("textLength",len).attr("lengthAdjust","spacingAndGlyphs").text(s);
}
kt(1040,135,sbNames[0],22,82,true);
kt(1040,162,"(K720sb)",22,97,true);
const kCenters = [448, 559, 638.5, 732];
const mCenters = [427, 539, 616.5, 710];
for (let i=0;i<4;i++){
  kt(1040,kCenters[i],sbNames[i+1],22,82,true);
  kt(1080,mCenters[i],"MFS",12.5,32,false,"middle");
}
</script></body></html>
